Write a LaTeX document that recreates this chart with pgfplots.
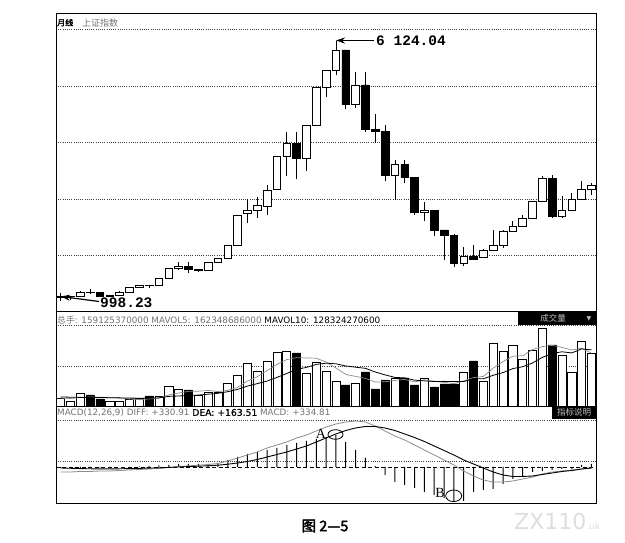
\documentclass[border=0pt]{standalone}
\usepackage{fontspec}
\usepackage{pgfplots}
\pgfplotsset{compat=1.18}
\usepackage{pgfplotstable}
\usetikzlibrary{arrows.meta}
\setmainfont{DejaVu Sans}
\newfontfamily\cjk{Noto Sans CJK SC}
\newfontfamily\cjkb{Noto Sans CJK SC}[FakeBold=2.5]
\newfontfamily\fakeb{DejaVu Sans}[FakeBold=1.2]
\newfontfamily\mono{Liberation Mono}
\newfontfamily\serifA{Liberation Serif}

% candles: i low bodybottom bodytop high up
\pgfplotstableread{
i L B T H up
0 998 1060 1080 1146 1
1 1004 1080 1083 1095 1
2 1079 1083 1162 1180 1
3 1134 1155 1163 1223 0
4 1068 1092 1155 1156 0
5 1074 1092 1099 1113 1
6 1085 1099 1161 1180 1
7 1157 1163 1258 1259 1
8 1243 1258 1299 1304 1
9 1247 1298 1300 1307 0
10 1296 1300 1440 1445 1
11 1434 1440 1641 1653 1
12 1611 1641 1672 1757 1
13 1541 1612 1672 1757 0
14 1558 1601 1612 1621 1
15 1581 1601 1752 1755 1
16 1748 1752 1837 1838 1
17 1833 1838 2099 2104 1
18 2084 2099 2675 2698 1
19 2541 2728 2786 3005 1
20 2635 2786 2881 3040 1
21 2687 2871 3183 3286 1
22 3196 3196 3841 3845 1
23 3463 3841 4109 4335 1
24 3404 3821 4109 4335 0
25 3563 3821 4471 4471 1
26 4458 4471 5218 5218 1
27 5032 5218 5552 5552 1
28 5462 5552 5954 6124 1
29 4778 4871 5954 5955 0
30 4812 4871 5261 5522 1
31 4330 4383 5261 5522 0
32 4123 4348 4383 4695 0
33 3357 3472 4348 4472 0
34 2990 3472 3693 3786 1
35 3333 3433 3693 3786 0
36 2693 2736 3433 3434 0
37 2566 2736 2775 2952 1
38 2284 2397 2775 2800 0
39 1802 2293 2397 2398 0
40 1664 1728 2293 2313 0
41 1678 1728 1871 2051 1
42 1814 1821 1871 2100 0
43 1844 1849 1990 2017 1
44 1984 1990 2082 2402 1
45 2037 2082 2373 2402 1
46 2355 2373 2477 2580 1
47 2460 2477 2632 2689 1
48 2620 2632 2959 2975 1
49 2950 2959 3412 3454 1
50 2639 2667 3412 3478 0
51 2639 2667 2779 3068 1
52 2770 2779 2996 3123 1
53 2985 2996 3195 3361 1
54 3095 3195 3277 3319 1
}\candles

% volume: i height ma5 ma10
\pgfplotstableread{
i h ma5 ma10
0 8 8 9
1 5 7.5 8.8
2 13 8.5 8.6
3 11 9 8.5
4 7 8.8 8.5
5 5 8.2 8.3
6 5 8.2 8.1
7 7 7 7.9
8 8 6.4 7.8
9 10 7 7.9
10 10 8 8.1
11 20 11 9.6
12 17 13 10
13 16 14.6 10.5
14 11 14.8 10.9
15 14 15.6 11.8
16 14 14.4 12.7
17 23 15.6 14.3
18 31 18.6 16.6
19 43 25 19.9
20 35 29.2 22.4
21 45 35.4 24.9
22 54 41.6 28.6
23 55 46.4 32.5
24 53 48.4 36.7
25 33 48 38.6
26 44 47.8 41.6
27 35 44 42.8
28 25 38 42.2
29 21 31.6 40
30 23 29.6 38.8
31 34 27.6 37.7
32 17 24 34
33 26 24.2 31.1
34 28 25.6 28.6
35 28 26.6 28.1
36 21 24 25.8
37 28 26.2 25.1
38 19 24.8 24.5
39 22 23.6 24.6
40 22 22.4 24.5
41 34 25 24.5
42 45 28.4 27.3
43 25 29.6 27.2
44 63 37.8 30.7
45 55 44.4 33.4
46 61 49.8 37.4
47 47 50.2 39.3
48 56 56.4 43
49 78 59.4 48.6
50 61 60.6 52.5
51 51 58.6 54.2
52 34 56 53.1
53 65 57.8 57.1
54 53 52.8 56.1
}\vol

% MACD: i diff dea macd
\pgfplotstableread{
i diff dea macd
0 -5 -1 -1
1 -5 -1.3 -1
2 -4.5 -1.6 -1
3 -4.5 -1.8 -1
4 -4 -1.9 -0.5
5 -4 -1.9 -0.5
6 -3.5 -1.8 0
7 -3 -1.6 0
8 -2.5 -1.4 0.5
9 -2 -1.1 1
10 -1.5 -0.8 1.5
11 -0.5 -0.4 2
12 0.5 0 3
13 1.2 0.4 3
14 1.8 0.8 3
15 2.5 1.2 3
16 3.5 1.8 4
17 6 2.8 7
18 9 4 10
19 12 5.5 13
20 15 7.5 15
21 19 10 17
22 22 12.5 19
23 25 15 22
24 29 18 24
25 32 21 26
26 36 25 28
27 40 29 30
28 43 33 32
29 45 36.5 25
30 46 39 17
31 45 40.5 9
32 41 40.5 1
33 36 39 -8
34 31 36.5 -15
35 27 33 -18
36 22 29.5 -21
37 17 25.5 -25
38 12 21 -28
39 7 16.5 -31
40 2 12 -35
41 -4 7 -34
42 -9 3 -25
43 -13 -1 -23
44 -15 -5 -22
45 -15 -8 -17
46 -14 -9.5 -12
47 -12 -9.5 -9
48 -10 -9 -5
49 -7 -7.5 -4
50 -5 -6 -3
51 -4 -4.5 -2
52 -3 -3.5 -2
53 -2 -2 2
54 -1 -1 3
}\macd

\pgfplotsset{
  panel/.style={
    anchor=south west, scale only axis, width=540pt,
    xmin=-0.478, xmax=54.46, xtick=\empty,
    yticklabels={}, ymajorgrids, major tick length=0pt,
    major grid style={black!75, dash pattern=on 0.9pt off 1.3pt, line width=0.6pt},
    axis line style={black, line width=0.9pt},
  }
}

\begin{document}
\begin{tikzpicture}[x=1pt,y=1pt]
\path[use as bounding box] (0,0) rectangle (625,543);
\fill[white] (0,0) rectangle (625,543);

% ---------- price panel: frame, grid and wicks ----------
\begin{axis}[panel, at={(56pt,232pt)}, height=298pt,
  ymin=794.5, ymax=6684, ytick={1887,3008,4128,5241,6368}]
\addplot[draw=none, mark=none,
  error bars/.cd, y dir=plus, y explicit, error mark=none,
  error bar style={solid, draw=black, line width=0.7pt}]
  table[x=i, y=L, y error expr=\thisrow{H}-\thisrow{L}]{\candles};
\end{axis}
% ---------- price panel: candle bodies ----------
\begin{axis}[anchor=south west, at={(56pt,232pt)}, scale only axis, width=540pt, height=298pt,
  xmin=-0.478, xmax=54.46, ymin=794.5, ymax=6684, hide axis,
  ybar stacked, bar width=0.78]
\addplot[draw=none, fill=none] table[x=i, y=B]{\candles};
\addplot[draw=black, fill=white, line width=0.7pt] table[x=i, y expr=\thisrow{up}*(\thisrow{T}-\thisrow{B})]{\candles};
\addplot[draw=black, fill=black, line width=0.7pt] table[x=i, y expr=(1-\thisrow{up})*(\thisrow{T}-\thisrow{B})]{\candles};
\end{axis}

% ---------- volume panel ----------
\begin{axis}[panel, at={(56pt,137pt)}, height=95pt,
  ymin=0, ymax=95, ytick={39.3,81}]
\addplot[ybar, bar width=0.82, bar shift=0pt, fill=white, draw=black, line width=0.7pt]
 coordinates {(0,8)(1,5)(2,13)(5,5)(6,5)(7,7)(8,8)(10,10)(11,20)(12,17)(14,11)(15,14)(16,14)(17,23)(18,31)(19,43)(20,35)(21,45)(22,54)(23,55)(25,33)(26,44)(27,35)(28,25)(30,23)(34,28)(37,28)(41,34)(43,25)(44,63)(45,55)(46,61)(47,47)(48,56)(49,78)(51,51)(52,34)(53,65)(54,53)};
\addplot[ybar, bar width=0.82, bar shift=0pt, fill=black, draw=black, line width=0.7pt]
 coordinates {(3,11)(4,7)(9,10)(13,16)(24,53)(29,21)(31,34)(32,17)(33,26)(35,28)(36,21)(38,19)(39,22)(40,22)(42,45)(50,61)};
\addplot[black!45, line width=0.7pt] table[x=i, y=ma5]{\vol};
\addplot[black, line width=0.8pt] table[x=i, y=ma10]{\vol};
\end{axis}

% ---------- MACD panel ----------
\begin{axis}[panel, at={(56pt,40pt)}, height=97pt,
  ymin=-36, ymax=61, ytick={6,47},
  extra y ticks={0}, extra y tick labels={},
  extra y tick style={grid=major, major grid style={black, dash pattern=on 4pt off 2.5pt, line width=0.8pt}}]
\addplot[ybar, bar width=1pt, bar shift=0pt, fill=black, draw=none] table[x=i, y=macd]{\macd};
\addplot[black!45, line width=0.8pt] table[x=i, y=diff]{\macd};
\addplot[black, line width=0.9pt] table[x=i, y=dea]{\macd};
\end{axis}

% ---------- headers ----------
\node[anchor=west, inner sep=0] at (57,520.3) {\cjkb\fontsize{8}{9}\selectfont 月线};
\node[anchor=west, inner sep=0, text=black!55] at (82,520.3) {\cjk\fontsize{9}{10}\selectfont 上证指数};

\node[anchor=west, inner sep=0] at (57,222.5) {\fontsize{8.8}{10}\selectfont\color{black!55}{\cjk 总手}: 159125370000 MAVOL5: 162348686000 \color{black}MAVOL10: 128324270600};
\fill[black] (517.5,218) rectangle (596,231);
\node[text=black!25, inner sep=0] at (553,224.5) {\cjk\fontsize{8.5}{9}\selectfont 成交量};
\node[text=black!25, inner sep=0] at (589,224.5) {\fontsize{6}{7}\selectfont ▼};

\node[anchor=west, inner sep=0] at (57,130) {\fontsize{8.8}{10}\selectfont\color{black!55}MACD(12,26,9) DIFF: +330.91 {\color{black}\fakeb\fontsize{9.2}{10}\selectfont DEA: +163.51} MACD: +334.81};
\fill[black] (552,124) rectangle (596,137);
\node[text=black!25, inner sep=0] at (574,130.5) {\cjk\fontsize{8.5}{9}\selectfont 指标说明};

% ---------- annotations ----------
\draw[line width=1.2pt, -{Stealth[length=9pt, width=6pt]}] (374,502.5) -- (336,502.5);
\node[anchor=west, inner sep=0] at (376,502.3) {\mono\bfseries\fontsize{14.5}{16}\selectfont 6 124.04};
\draw[line width=1.2pt, -{Stealth[length=9pt, width=6pt]}] (99,241.5) -- (61,246.5);
\node[anchor=west, inner sep=0] at (100,240) {\mono\bfseries\fontsize{14.5}{16}\selectfont 998.23};

\node[inner sep=0] at (321,109) {\serifA\fontsize{14}{16}\selectfont A};
\draw[line width=0.8pt] (335.5,108.5) ellipse (7.5 and 4.8);
\node[inner sep=0] at (440,50) {\serifA\fontsize{14}{16}\selectfont B};
\draw[line width=0.8pt] (453.7,47.2) ellipse (8 and 5.8);

% ---------- caption and watermark ----------
\node[inner sep=0] at (325,17) {\cjkb\fontsize{14.5}{16}\selectfont 图 2—5};
\node[anchor=west, inner sep=0, text=black!13] at (514,22) {\fontsize{22}{24}\selectfont ZX110\fontsize{9}{10}\selectfont .uk};
\end{tikzpicture}
\end{document}
